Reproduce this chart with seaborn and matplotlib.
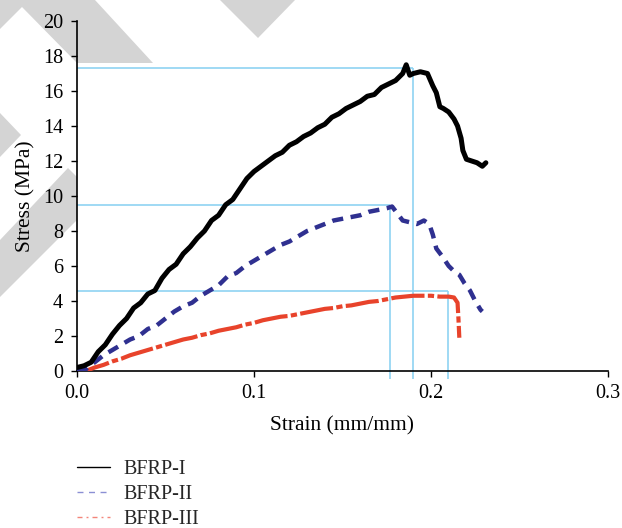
import matplotlib
matplotlib.use("Agg")
import matplotlib.pyplot as plt
from matplotlib.lines import Line2D
from matplotlib.patches import Polygon
import seaborn as sns
import pandas as pd

# BFRP-I (black, solid)
strain_1 = [0.000, 0.004, 0.008, 0.012, 0.016, 0.020, 0.024, 0.028, 0.032, 0.036,
            0.040, 0.044, 0.048, 0.052, 0.056, 0.060, 0.064, 0.068, 0.072, 0.076,
            0.080, 0.084, 0.088, 0.092, 0.096, 0.100, 0.104, 0.108, 0.112, 0.116,
            0.120, 0.124, 0.128, 0.132, 0.136, 0.140, 0.144, 0.148, 0.152, 0.156,
            0.160, 0.164, 0.168, 0.172, 0.176, 0.180, 0.184, 0.186, 0.188, 0.190,
            0.194, 0.198, 0.201, 0.203, 0.205, 0.207, 0.210, 0.213, 0.215, 0.217,
            0.218, 0.220, 0.223, 0.226, 0.229, 0.231]
stress_1 = [0.2, 0.3, 0.5, 1.1, 1.5, 2.1, 2.6, 3.0, 3.6, 3.9,
            4.4, 4.6, 5.3, 5.8, 6.1, 6.7, 7.1, 7.6, 8.0, 8.6,
            8.9, 9.5, 9.8, 10.4, 11.0, 11.4, 11.7, 12.0, 12.3, 12.5,
            12.9, 13.1, 13.4, 13.6, 13.9, 14.1, 14.5, 14.7, 15.0, 15.2,
            15.4, 15.7, 15.8, 16.2, 16.4, 16.6, 17.0, 17.5, 16.9, 17.0,
            17.1, 17.0, 16.3, 15.9, 15.1, 15.0, 14.8, 14.4, 14.0, 13.3,
            12.6, 12.1, 12.0, 11.9, 11.7, 11.9]

# BFRP-II (navy, dashed)
strain_2 = [0.000, 0.005, 0.010, 0.015, 0.020, 0.025, 0.030, 0.035, 0.040, 0.045,
            0.050, 0.055, 0.060, 0.065, 0.070, 0.075, 0.080, 0.085, 0.090, 0.095,
            0.100, 0.105, 0.110, 0.115, 0.120, 0.125, 0.130, 0.135, 0.140, 0.145,
            0.150, 0.155, 0.160, 0.165, 0.170, 0.175, 0.178, 0.181, 0.184, 0.188,
            0.192, 0.196, 0.199, 0.201, 0.203, 0.206, 0.210, 0.213, 0.216, 0.219,
            0.222, 0.225, 0.228, 0.229]
stress_2 = [0.0, 0.1, 0.5, 0.9, 1.2, 1.5, 1.8, 2.0, 2.4, 2.6,
            3.0, 3.4, 3.7, 3.9, 4.3, 4.6, 4.9, 5.4, 5.6, 6.0,
            6.3, 6.6, 6.9, 7.2, 7.4, 7.7, 8.0, 8.2, 8.4, 8.6,
            8.7, 8.8, 8.9, 9.1, 9.2, 9.3, 9.4, 9.0, 8.6, 8.5,
            8.4, 8.6, 8.4, 7.8, 7.0, 6.6, 6.0, 5.7, 5.5, 5.0,
            4.6, 4.0, 3.5, 3.4]

# BFRP-III (red, dash-dot)
strain_3 = [0.000, 0.005, 0.010, 0.015, 0.020, 0.025, 0.030, 0.035, 0.040, 0.045,
            0.050, 0.055, 0.060, 0.065, 0.070, 0.075, 0.080, 0.085, 0.090, 0.095,
            0.100, 0.105, 0.110, 0.115, 0.120, 0.125, 0.130, 0.135, 0.140, 0.145,
            0.150, 0.155, 0.160, 0.165, 0.170, 0.175, 0.180, 0.185, 0.190, 0.195,
            0.200, 0.205, 0.210, 0.213, 0.215, 0.2155, 0.216]
stress_3 = [0.0, 0.0, 0.2, 0.35, 0.55, 0.7, 0.9, 1.05, 1.2, 1.35,
            1.5, 1.65, 1.8, 1.9, 2.05, 2.15, 2.3, 2.4, 2.5, 2.65,
            2.75, 2.9, 3.0, 3.1, 3.15, 3.25, 3.35, 3.45, 3.55, 3.6,
            3.7, 3.75, 3.85, 3.95, 4.0, 4.1, 4.2, 4.25, 4.3, 4.3,
            4.3, 4.25, 4.25, 4.2, 3.9, 3.0, 1.9]

# peak guide lines
peak_strain = [0.190, 0.177, 0.2095]
peak_stress = [17.3, 9.5, 4.55]

labels = ["BFRP-I", "BFRP-II", "BFRP-III"]

sns.set_style("ticks")
plt.rcParams["font.family"] = ["Liberation Serif", "DejaVu Serif"]
FS = 14.5
LFS = 15.5

fig = plt.figure(figsize=(6.22, 5.28), dpi=100)
W, H = 622, 528

# grey watermark shapes behind everything (figure pixel coords)
shapes = [
    [(0, 0), (95, 0), (153, 63), (77, 63), (22, 7), (0, 29)],
    [(220, 0), (295, 0), (258, 38)],
    [(0, 113), (21, 135), (0, 157)],
    [(0, 240), (68, 168), (77, 177), (77, 220), (0, 297)],
]
for pts in shapes:
    fig.patches.append(Polygon([(x / W, 1 - y / H) for x, y in pts], closed=True,
                               transform=fig.transFigure, facecolor="#d4d4d4",
                               edgecolor="none", zorder=-5))

ax = fig.add_axes([77 / W, 1 - 371 / H, (608 - 77) / W, 350 / H])
ax.patch.set_alpha(0)

df1 = pd.DataFrame({"strain": strain_1, "stress": stress_1})
df2 = pd.DataFrame({"strain": strain_2, "stress": stress_2})
df3 = pd.DataFrame({"strain": strain_3, "stress": stress_3})

# guide lines
ax.hlines(peak_stress, 0, peak_strain, color="#8fd3f2", lw=1.2, zorder=1)
ax.vlines(peak_strain, -0.45, peak_stress, color="#8fd3f2", lw=1.2, zorder=1, clip_on=False)

sns.lineplot(data=df3, x="strain", y="stress", ax=ax, sort=False, estimator=None,
             color="#e8432b", lw=3.0, zorder=3)
ax.lines[-1].set_dashes([8, 0.8, 1.5, 0.8])
sns.lineplot(data=df2, x="strain", y="stress", ax=ax, sort=False, estimator=None,
             color="#2f3090", lw=3.2, zorder=3)
ax.lines[-1].set_dashes([2.5, 1.7])
sns.lineplot(data=df1, x="strain", y="stress", ax=ax, sort=False, estimator=None,
             color="black", lw=3.6, zorder=4)

ax.set_xlim(0, 0.3)
ax.set_ylim(0, 20)
ax.set_xticks([0.0, 0.1, 0.2, 0.3])
ax.set_xticklabels(["0.0", "0.1", "0.2", "0.3"])
ax.set_yticks(range(0, 21, 2))
ax.tick_params(labelsize=FS, length=4, width=1, color="black", labelcolor="black")
ax.tick_params(axis="y", pad=6)
ax.tick_params(axis="x", pad=5)
sns.despine(ax=ax)
for s in ["left", "bottom"]:
    ax.spines[s].set_color("black")
    ax.spines[s].set_linewidth(1.2)
ax.set_xlabel("Strain (mm/mm)", fontsize=LFS, color="black", labelpad=10)
ax.set_ylabel("Stress (MPa)", fontsize=LFS, color="black", labelpad=5)

handles = [
    Line2D([], [], color="black", lw=1.0),
    Line2D([], [], color="#8b8fd4", lw=1.0, dashes=[4.3, 4]),
    Line2D([], [], color="#f3857a", lw=1.0, dashes=[3.6, 2.9, 1.4, 2.9]),
]
fig.legend(handles, labels, loc="upper left", bbox_to_anchor=(77 / W, 1 - 460 / H),
           frameon=False, fontsize=FS, handlelength=1.65, handletextpad=0.65,
           labelspacing=0.28, borderaxespad=0, borderpad=0)

fig.savefig("out.png", dpi=100)
plt.close(fig)
